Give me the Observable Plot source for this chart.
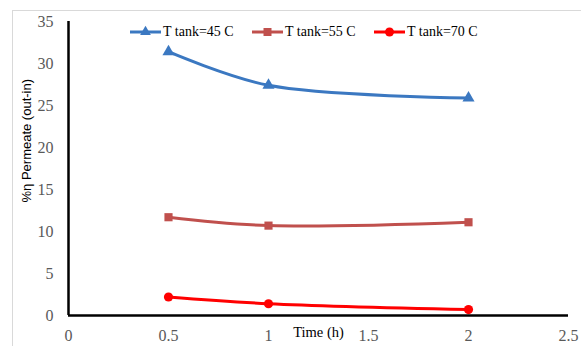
<!DOCTYPE html>
<html>
<head>
<meta charset="utf-8">
<script src="https://cdn.jsdelivr.net/npm/d3@7"></script>
<script src="https://cdn.jsdelivr.net/npm/@observablehq/plot@0.6"></script>
<style>
  html, body { margin: 0; padding: 0; background: #fff; }
  #wrap { position: relative; width: 581px; height: 346px; overflow: hidden; background: #fff; }
  #border { position: absolute; left: 12px; top: 10px; width: 640px; height: 400px; border: 1px solid #d9d9d9; box-sizing: border-box; }
  #chart { position: absolute; left: 0; top: 0; }
  #legend { position: absolute; top: 22px; left: 0; width: 581px; height: 20px; }
  .item { position: absolute; top: 0; display: flex; align-items: center; font-family: "Liberation Serif", "Times New Roman", serif; font-size: 14px; color: #000; white-space: nowrap; }
  .item svg { display: block; margin-right: 2px; }
  #chart svg text { font-family: "Liberation Serif", "Times New Roman", serif; }
  #chart svg g.ytitle text { font-family: "Liberation Sans", Arial, sans-serif; }
</style>
</head>
<body>
<div id="wrap">
  <div id="border"></div>
  <div id="chart"></div>
  <div id="legend"></div>
</div>
<script>
const time = [0.5, 1, 2];
const t45 = [31.4, 27.4, 25.9];
const t55 = [11.7, 10.7, 11.1];
const t70 = [2.2, 1.4, 0.7];
const seriesNames = ["T tank=45 C", "T tank=55 C", "T tank=70 C"];
const seriesColors = ["#3b78c1", "#c0504d", "#ff0000"];
const seriesSymbols = ["triangle", "square", "circle"];
const xTicks = [0, 0.5, 1, 1.5, 2, 2.5];
const yTicks = [0, 5, 10, 15, 20, 25, 30, 35];
const xTitle = "Time (h)";
const yTitle = "%η Permeate (out-in)";

const values = [t45, t55, t70];
const data = [];
values.forEach((vals, si) => {
  vals.forEach((v, i) => data.push({series: seriesNames[si], time: time[i], value: v}));
});

const marks = [];
seriesNames.forEach((name, si) => {
  const d = data.filter(p => p.series === name);
  marks.push(Plot.line(d, {x: "time", y: "value", stroke: seriesColors[si], strokeWidth: 3, curve: "catmull-rom"}));
  marks.push(Plot.dot(d, {x: "time", y: "value", fill: seriesColors[si], stroke: null, symbol: seriesSymbols[si], r: si === 0 ? 4.5 : 4.6}));
});

const chart = Plot.plot({
  width: 581,
  height: 346,
  marginLeft: 68,
  marginRight: 13,
  marginTop: 21,
  marginBottom: 31,
  style: {background: "transparent", overflow: "visible"},
  x: {domain: [0, 2.5]},
  y: {domain: [0, 35]},
  marks: [
    Plot.axisX({ticks: xTicks, tickSize: 0, tickPadding: 14, fontSize: 16, fill: "#595959", label: null, tickFormat: d => String(d)}),
    Plot.axisY({ticks: yTicks, tickSize: 0, tickPadding: 15, fontSize: 16, fill: "#595959", label: null}),
    ...marks,
    Plot.ruleX([0], {stroke: "#000", strokeWidth: 2.5}),
    Plot.ruleY([0], {stroke: "#000", strokeWidth: 2.5}),
    Plot.text([xTitle], {frameAnchor: "bottom", dy: 21, fontSize: 14.5, fill: "#000"}),
    Plot.text([yTitle], {frameAnchor: "left", dx: -42, dy: 34, rotate: -90, fontSize: 13, fill: "#000", className: "ytitle"})
  ]
});
document.getElementById("chart").appendChild(chart);

// legend
const legend = document.getElementById("legend");
const lefts = [130, 252, 374];
seriesNames.forEach((name, si) => {
  const item = document.createElement("div");
  item.className = "item";
  item.style.left = lefts[si] + "px";
  const s = d3.create("svg").attr("width", 31).attr("height", 20);
  s.append("line").attr("x1", 0).attr("x2", 31).attr("y1", 10).attr("y2", 10).attr("stroke", seriesColors[si]).attr("stroke-width", 3);
  const sym = {triangle: d3.symbolTriangle, square: d3.symbolSquare, circle: d3.symbolCircle}[seriesSymbols[si]];
  s.append("path").attr("d", d3.symbol(sym, si === 0 ? 50 : 64)()).attr("transform", "translate(15.5,10)").attr("fill", seriesColors[si]);
  item.appendChild(s.node());
  const t = document.createElement("span");
  t.textContent = name;
  item.appendChild(t);
  legend.appendChild(item);
});
</script>
</body>
</html>
